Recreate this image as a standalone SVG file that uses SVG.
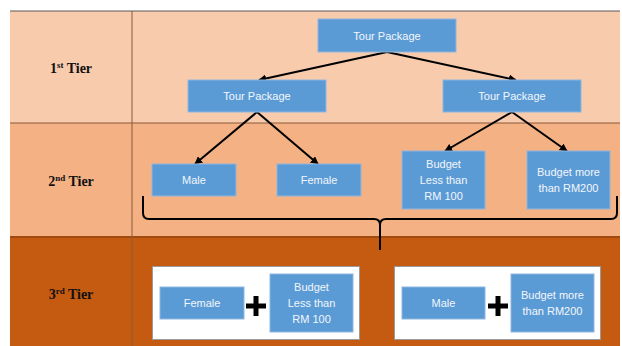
<svg xmlns="http://www.w3.org/2000/svg" width="622" height="346" viewBox="0 0 622 346">
  <style>
    .box { fill: #5B9BD5; stroke: #8FB6DF; stroke-width: 1; }
    .lbl { font-family: "Liberation Sans", Arial, sans-serif; font-size: 11px; fill: #F2F6FB; text-anchor: middle; }
    .tier { font-family: "Liberation Serif", "Times New Roman", serif; font-size: 14px; font-weight: bold; fill: #111; text-anchor: middle; }
    .sup { font-size: 9px; }
    .grid { stroke: #8A5A3C; stroke-width: 1; fill: none; }
    .conn { stroke: #000; stroke-width: 2; fill: none; }
    .plus { stroke: #000; stroke-width: 5; }
    .panel { fill: #FFFFFF; stroke: #9A9A9A; stroke-width: 1; }
  </style>
  <defs>
    <marker id="arrow" viewBox="0 0 10 10" refX="9" refY="5" markerWidth="4" markerHeight="4" orient="auto">
      <path d="M0,0 L10,5 L0,10 z" fill="#000"/>
    </marker>
  </defs>

  <rect width="622" height="346" fill="#FFFFFF"/>

  <!-- tier bands -->
  <g id="table">
    <rect x="10" y="11" width="610" height="112" fill="#F7CBAC"/>
    <rect x="10" y="123" width="610" height="114" fill="#F4B183"/>
    <rect x="10" y="237" width="610" height="109" fill="#C55A11"/>
    <line x1="10" y1="11" x2="620" y2="11" stroke="#595959" stroke-width="1"/>
    <line class="grid" x1="10" y1="123" x2="620" y2="123"/>
    <line x1="10" y1="237" x2="620" y2="237" stroke="#A04A10" stroke-width="2"/>
    <line class="grid" x1="132" y1="11" x2="132" y2="346"/>
  </g>

  <g id="tier-labels">
    <text class="tier" x="71" y="73">1<tspan class="sup" dy="-5">st</tspan><tspan dy="5"> Tier</tspan></text>
    <text class="tier" x="71" y="186">2<tspan class="sup" dy="-5">nd</tspan><tspan dy="5"> Tier</tspan></text>
    <text class="tier" x="71" y="299">3<tspan class="sup" dy="-5">rd</tspan><tspan dy="5"> Tier</tspan></text>
  </g>

  <!-- connectors -->
  <g id="connectors">
    <line class="conn" x1="387" y1="52" x2="259" y2="80" marker-end="url(#arrow)"/>
    <line class="conn" x1="387" y1="52" x2="516" y2="80" marker-end="url(#arrow)"/>
    <line class="conn" x1="257" y1="112" x2="195" y2="164" marker-end="url(#arrow)"/>
    <line class="conn" x1="257" y1="112" x2="318" y2="164" marker-end="url(#arrow)"/>
    <line class="conn" x1="512" y1="112" x2="445" y2="151" marker-end="url(#arrow)"/>
    <line class="conn" x1="512" y1="112" x2="567" y2="151" marker-end="url(#arrow)"/>
    <!-- curly bracket grouping tier 2 -->
    <path class="conn" d="M143,196 L143,213 Q143,219 149,219 L374,219 Q380,219 380,225 L380,250 M380,225 Q380,219 386,219 L611,219 Q617,219 617,213 L617,196"/>
  </g>

  <g id="node-tour-top">
    <rect class="box" x="318" y="19" width="138" height="33"/>
    <text class="lbl" x="387" y="39.5">Tour Package</text>
  </g>
  <g id="node-tour-left">
    <rect class="box" x="188" y="80" width="138" height="32"/>
    <text class="lbl" x="257" y="100">Tour Package</text>
  </g>
  <g id="node-tour-right">
    <rect class="box" x="443" y="80" width="138" height="32"/>
    <text class="lbl" x="512" y="100">Tour Package</text>
  </g>

  <g id="node-male">
    <rect class="box" x="152" y="164" width="84" height="32"/>
    <text class="lbl" x="194" y="184">Male</text>
  </g>
  <g id="node-female">
    <rect class="box" x="277" y="164" width="84" height="32"/>
    <text class="lbl" x="319" y="184">Female</text>
  </g>
  <g id="node-budget-less">
    <rect class="box" x="402" y="151" width="83" height="58"/>
    <text class="lbl" x="443.5" y="168">Budget</text>
    <text class="lbl" x="443.5" y="184">Less than</text>
    <text class="lbl" x="443.5" y="200">RM 100</text>
  </g>
  <g id="node-budget-more">
    <rect class="box" x="527" y="151" width="83" height="58"/>
    <text class="lbl" x="568.5" y="176">Budget more</text>
    <text class="lbl" x="568.5" y="192">than RM200</text>
  </g>

  <!-- tier 3 combinations -->
  <g id="node-combo-female">
    <rect class="panel" x="152.5" y="266.5" width="207" height="73"/>
    <rect class="box" x="160" y="287" width="84" height="32"/>
    <text class="lbl" x="202" y="307">Female</text>
    <line class="plus" x1="246" y1="306" x2="266" y2="306"/>
    <line class="plus" x1="256" y1="296" x2="256" y2="316"/>
    <rect class="box" x="270" y="274" width="83" height="58"/>
    <text class="lbl" x="311.5" y="291">Budget</text>
    <text class="lbl" x="311.5" y="307">Less than</text>
    <text class="lbl" x="311.5" y="323">RM 100</text>
  </g>
  <g id="node-combo-male">
    <rect class="panel" x="394.5" y="266.5" width="206" height="73"/>
    <rect class="box" x="402" y="287" width="83" height="32"/>
    <text class="lbl" x="443.5" y="307">Male</text>
    <line class="plus" x1="488" y1="306" x2="508" y2="306"/>
    <line class="plus" x1="498" y1="296" x2="498" y2="316"/>
    <rect class="box" x="511" y="274" width="83" height="58"/>
    <text class="lbl" x="552.5" y="299">Budget more</text>
    <text class="lbl" x="552.5" y="315">than RM200</text>
  </g>
</svg>
